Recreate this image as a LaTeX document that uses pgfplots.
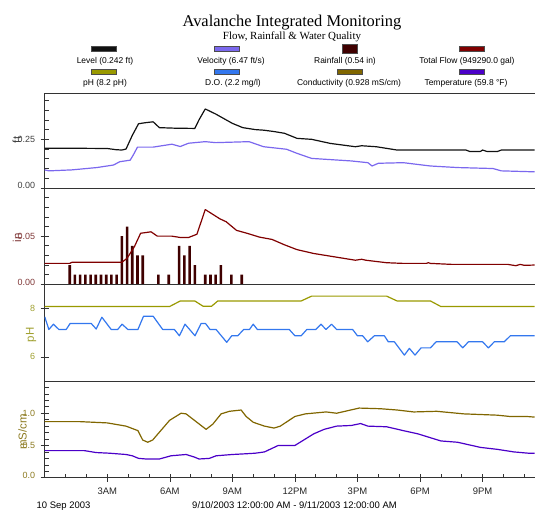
\documentclass[border=0pt]{standalone}
\usepackage{fontspec}
\setmainfont{Liberation Sans}
\newfontfamily\serif{Liberation Serif}
\usepackage{pgfplots}
\pgfplotsset{compat=1.18}

\definecolor{lvl}{HTML}{111111}
\definecolor{vel}{HTML}{7B68EE}
\definecolor{rain}{HTML}{3F0000}
\definecolor{flow}{HTML}{800000}
\definecolor{ph}{HTML}{999900}
\definecolor{docol}{HTML}{3377EE}
\definecolor{cond}{HTML}{806600}
\definecolor{temp}{HTML}{4B00C8}
\definecolor{labA}{HTML}{404040}
\definecolor{labB}{HTML}{803838}
\definecolor{labC}{HTML}{A0A030}
\definecolor{labD}{HTML}{8C7A20}

\pgfplotsset{
  panel/.style={
    scale only axis, width=490bp, xmin=0, xmax=23.5,
    anchor=south west,
    axis x line*=box, axis y line*=left,
    axis line style={black!80, line width=0.8bp},
    xtick=\empty, ytick pos=left,
    tick align=center, major tick length=8bp, minor tick length=4bp,
    minor y tick style={xshift=2bp},
    tick style={black!80, line width=0.6bp},
    /pgf/number format/assume math mode=true,
    yticklabel style={font=\fontsize{9}{9}\selectfont, xshift=-2bp},
    every axis plot/.append style={line width=1.2bp, line join=round},
  }
}

\begin{document}
\begin{tikzpicture}
\path[use as bounding box] (0,0) rectangle (535bp,510bp);

% level and velocity
\begin{axis}[panel, at={(44.7bp,322bp)}, height=95bp,
  ymin=0, ymax=0.488, ytick={0,0.25},
  yticklabels={\raisebox{4.5bp}{0.00},0.25},
  minor ytick={0.05,0.1,0.15,0.2,0.3,0.35,0.4,0.45},
  yticklabel style={text=labA}]
\addplot[vel] coordinates {(0,0.093) (0.2,0.088) (1.3,0.093) (2.5,0.105) (3.3,0.118) (3.6,0.135) (4.1,0.143) (4.25,0.17) (4.45,0.21) (5.2,0.21) (6.1,0.225) (6.5,0.213) (6.9,0.23) (7.7,0.238) (8.2,0.233) (9.8,0.238) (10.5,0.212) (11.6,0.199) (12.1,0.178) (12.8,0.152) (14.7,0.139) (15.5,0.13) (15.7,0.113) (16.0,0.127) (17.2,0.13) (18.5,0.113) (19.8,0.105) (21.5,0.1) (21.9,0.088) (23.5,0.083)};
\addplot[lvl] coordinates {(0,0.204) (1.5,0.204) (3.0,0.203) (3.4,0.197) (3.7,0.195) (3.9,0.2) (4.2,0.27) (4.5,0.33) (4.8,0.335) (5.2,0.34) (5.5,0.31) (6.3,0.307) (7.2,0.306) (7.4,0.35) (7.7,0.406) (8.2,0.38) (9.0,0.332) (9.5,0.31) (10.1,0.30) (10.5,0.297) (11.0,0.29) (11.5,0.281) (12.1,0.255) (12.8,0.25) (13.7,0.229) (14.9,0.212) (15.2,0.217) (15.9,0.212) (16.9,0.195) (20.2,0.195) (20.4,0.187) (20.9,0.188) (21.0,0.195) (21.2,0.188) (21.7,0.187) (21.9,0.195) (23.5,0.195)};
\end{axis}

% rainfall and total flow
\begin{axis}[panel, at={(44.7bp,225.7bp)}, height=96.3bp,
  ymin=0, ymax=0.1, ytick={0,0.05},
  yticklabels={\raisebox{4.5bp}{0.00},0.05},
  minor ytick={0.01,0.02,0.03,0.04,0.06,0.07,0.08,0.09},
  yticklabel style={text=labB}]
\addplot[ybar, bar width=2.6bp, fill=rain, draw=none] coordinates {(1.2,0.02) (1.45,0.01) (1.7,0.01) (1.95,0.01) (2.2,0.01) (2.45,0.01) (2.7,0.01) (2.95,0.01) (3.2,0.01) (3.45,0.01) (3.7,0.05) (3.95,0.06) (4.2,0.04) (4.45,0.03) (4.7,0.03) (5.45,0.01) (5.95,0.01) (6.45,0.04) (6.7,0.03) (6.95,0.04) (7.2,0.02) (7.7,0.01) (7.95,0.01) (8.2,0.01) (8.45,0.02) (8.95,0.01) (9.45,0.01)};
\addplot[flow] coordinates {(0,0.0217) (1.2,0.0217) (1.3,0.0228) (3.7,0.0228) (3.95,0.027) (4.3,0.039) (4.6,0.053) (5.1,0.0545) (5.4,0.050) (6.1,0.050) (6.5,0.0486) (6.9,0.0486) (7.3,0.052) (7.7,0.0776) (8.4,0.068) (8.7,0.065) (9.2,0.056) (9.7,0.053) (10.3,0.049) (10.9,0.0466) (11.5,0.041) (12.1,0.036) (12.9,0.032) (14.9,0.025) (15.2,0.026) (15.4,0.025) (16.4,0.0224) (17.2,0.0217) (18.3,0.0217) (18.4,0.0224) (18.5,0.0217) (19.5,0.0207) (22.2,0.0207) (22.6,0.0193) (22.8,0.0207) (23.0,0.0197) (23.5,0.02)};
\end{axis}

% pH and dissolved oxygen
\begin{axis}[panel, at={(44.7bp,129bp)}, height=96.7bp,
  ymin=5, ymax=9, ytick={6,8}, yticklabels={6,8},
  yticklabel style={text=labC}]
\addplot[ph] coordinates {(0,8.08) (5.99,8.08) (6.5,8.31) (7.2,8.31) (7.6,8.09) (8.0,8.09) (8.3,8.31) (12.3,8.31) (12.8,8.51) (16.4,8.51) (16.9,8.31) (18.5,8.31) (19.0,8.08) (23.5,8.08)};
\addplot[docol] coordinates {(0,7.66) (0.2,7.13) (0.42,7.35) (0.68,7.13) (1.03,7.13) (1.22,7.38) (2.23,7.38) (2.47,7.15) (2.74,7.64) (3.19,7.13) (3.5,7.13) (3.71,7.35) (3.99,7.13) (4.47,7.13) (4.74,7.68) (5.2,7.68) (5.66,7.13) (6.22,7.13) (6.46,6.87) (6.73,7.35) (7.21,6.87) (7.5,7.38) (7.71,7.38) (7.93,7.13) (8.22,7.13) (8.73,6.6) (8.97,6.87) (9.26,6.87) (9.54,7.13) (9.82,7.13) (10.0,7.35) (10.2,7.13) (11.73,7.13) (12.0,6.87) (12.3,6.87) (12.57,7.13) (13.0,7.13) (13.25,7.35) (13.49,7.13) (13.76,7.35) (14.0,7.13) (14.77,7.13) (15.0,6.87) (15.25,6.87) (15.49,6.62) (15.81,6.87) (16.29,6.87) (16.48,6.62) (16.77,6.62) (17.25,6.07) (17.49,6.35) (17.76,6.07) (18.05,6.37) (18.5,6.37) (18.77,6.62) (19.78,6.62) (20.05,6.37) (20.32,6.62) (21.0,6.62) (21.28,6.37) (21.56,6.62) (22.04,6.62) (22.33,6.87) (23.5,6.87)};
\end{axis}

% conductivity and temperature
\begin{axis}[panel, at={(44.7bp,32.3bp)}, height=96.7bp,
  ymin=0, ymax=1.5, ytick={0,0.5,1.0},
  yticklabels={\raisebox{4.5bp}{0.0},0.5,1.0},
  minor ytick={0.1,0.2,0.3,0.4,0.6,0.7,0.8,0.9,1.1,1.2,1.3,1.4},
  yticklabel style={text=labD},
  xtick={3,6,9,12,15,18,21}, xtick pos=left,
  xticklabels={3AM,6AM,9AM,12PM,3PM,6PM,9PM},
  minor xtick={1,2,4,5,7,8,10,11,13,14,16,17,19,20,22,23},
  minor x tick style={yshift=2bp},
  xticklabel style={font=\fontsize{9.5}{9.5}\selectfont, text=black!85, yshift=-3bp}]
\addplot[cond] coordinates {(0,0.87) (1.67,0.87) (3.0,0.85) (3.9,0.8) (4.47,0.73) (4.7,0.585) (4.94,0.55) (5.18,0.585) (5.99,0.89) (6.54,1.0) (6.78,0.99) (7.18,0.89) (7.74,0.75) (8.06,0.83) (8.46,0.99) (8.86,1.03) (9.42,1.05) (9.66,0.95) (10.0,0.86) (10.54,0.8) (11.0,0.77) (11.3,0.8) (12.0,0.95) (12.5,0.99) (13.5,1.02) (14.0,1.0) (15.08,1.08) (16.1,1.07) (16.9,1.05) (17.7,1.02) (18.8,1.03) (20.1,0.99) (21.7,0.97) (22.3,0.95) (23.1,0.95) (23.5,0.94)};
\addplot[temp] coordinates {(0,0.42) (1.9,0.42) (2.47,0.39) (3.1,0.38) (3.9,0.36) (4.2,0.34) (4.5,0.30) (4.86,0.29) (5.5,0.29) (6.06,0.34) (6.78,0.36) (7.18,0.32) (7.4,0.29) (7.9,0.30) (8.22,0.34) (9.0,0.36) (9.58,0.37) (10.1,0.38) (10.54,0.40) (11.2,0.50) (12.0,0.50) (12.9,0.68) (13.4,0.75) (14.0,0.80) (14.7,0.81) (15.15,0.84) (15.5,0.80) (16.4,0.79) (17.2,0.73) (17.9,0.68) (19.0,0.57) (19.8,0.55) (20.9,0.47) (21.7,0.44) (22.5,0.40) (23.2,0.38) (23.5,0.38)};
\end{axis}

% axis titles
\node[rotate=90, text=labA, font=\fontsize{11.5}{11.5}\selectfont] at (16.7bp,370bp) {ft};
\node[rotate=90, text=labB, font=\fontsize{11.5}{11.5}\selectfont] at (17bp,272bp) {in};
\node[rotate=90, text=labC, font=\fontsize{11.5}{11.5}\selectfont] at (31bp,175bp) {pH};
\node[rotate=90, text=labD, font=\fontsize{11.5}{11.5}\selectfont] at (22.5bp,78bp) {mS/cm};

% date line
\node[anchor=base, font=\fontsize{9.5}{9.5}\selectfont] at (63.5bp,2bp) {10 Sep 2003};
\node[anchor=base, font=\fontsize{9.5}{9.5}\selectfont] at (294.5bp,2bp) {9/10/2003 12:00:00 AM - 9/11/2003 12:00:00 AM};

% title
\node[anchor=base, font=\serif\fontsize{16.5}{18}\selectfont] at (292bp,483.3bp) {Avalanche Integrated Monitoring};
\node[anchor=base, font=\serif\fontsize{11}{12}\selectfont] at (292bp,470bp) {Flow, Rainfall \& Water Quality};

% legend
\begin{scope}[font=\fontsize{8.5}{8.5}\selectfont]
\draw[fill=lvl, draw=black!70] (91.5bp,459bp) rectangle (116.5bp,463.7bp);
\draw[fill=vel, draw=black!70] (214.5bp,459bp) rectangle (239.5bp,463.7bp);
\draw[fill=rain, draw=black!70] (342bp,456.7bp) rectangle (357bp,466bp);
\draw[fill=flow, draw=black!70] (459.5bp,459bp) rectangle (484.5bp,463.7bp);
\draw[fill=ph, draw=black!70] (91.5bp,436bp) rectangle (116.5bp,440.7bp);
\draw[fill=docol, draw=black!70] (214.5bp,436bp) rectangle (239.5bp,440.7bp);
\draw[fill=cond, draw=black!70] (337.5bp,436bp) rectangle (362.5bp,440.7bp);
\draw[fill=temp, draw=black!70] (459.5bp,436bp) rectangle (484.5bp,440.7bp);
\node[anchor=base] at (105bp,446bp) {Level (0.242 ft)};
\node[anchor=base] at (231bp,446bp) {Velocity (6.47 ft/s)};
\node[anchor=base] at (345bp,446bp) {Rainfall (0.54 in)};
\node[anchor=base] at (467bp,446bp) {Total Flow (949290.0 gal)};
\node[anchor=base] at (105bp,424bp) {pH (8.2 pH)};
\node[anchor=base] at (233bp,424bp) {D.O. (2.2 mg/l)};
\node[anchor=base] at (349bp,424bp) {Conductivity (0.928 mS/cm)};
\node[anchor=base] at (466bp,424bp) {Temperature (59.8 °F)};
\end{scope}
\end{tikzpicture}
\end{document}
